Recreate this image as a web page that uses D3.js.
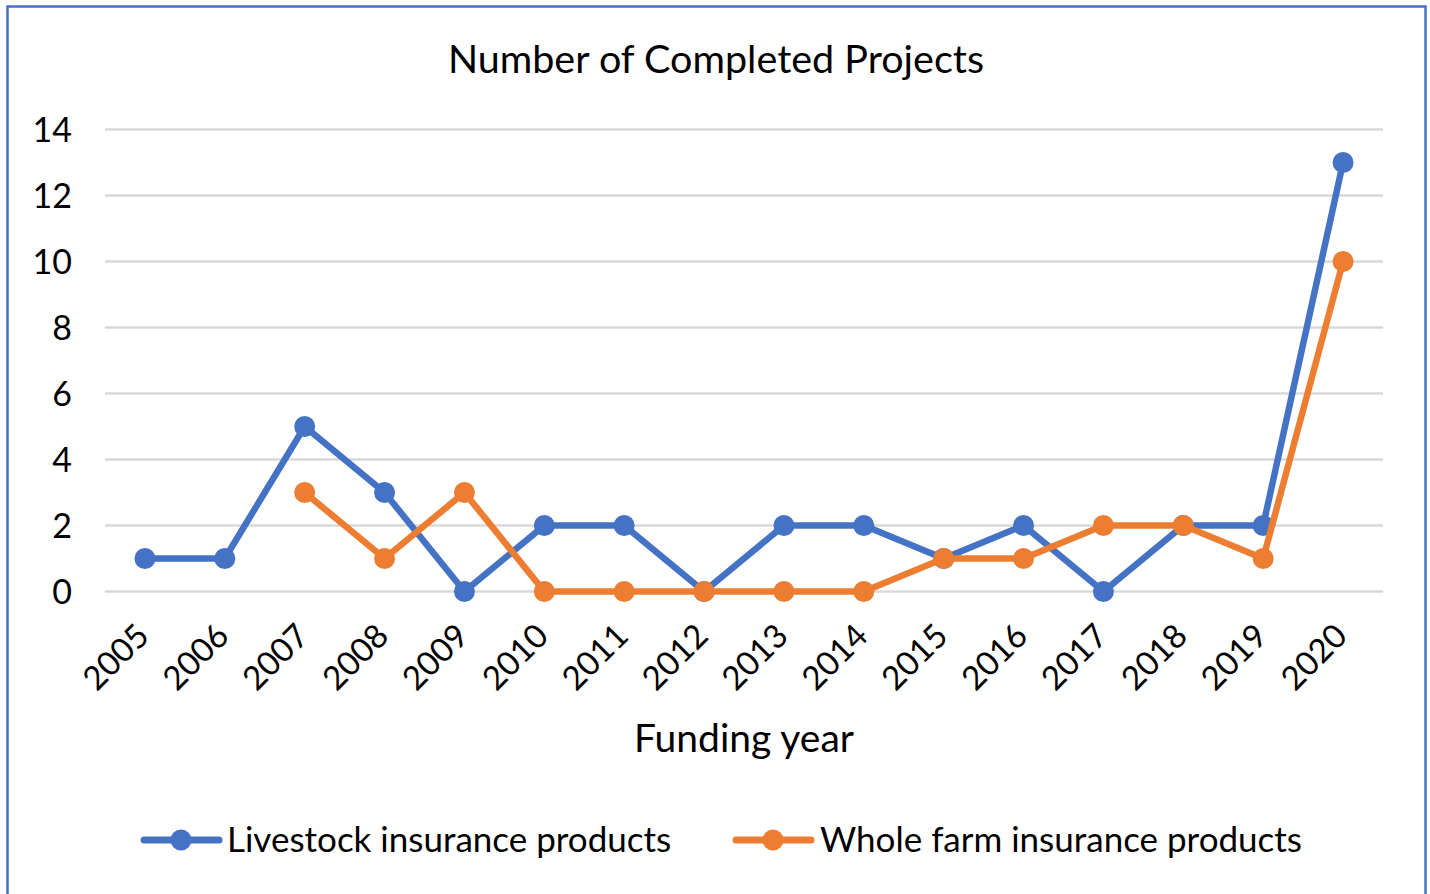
<!DOCTYPE html>
<html><head><meta charset="utf-8">
<script src="https://cdn.jsdelivr.net/npm/d3@7"></script>
<style>html,body{margin:0;padding:0;background:#fff;}svg{display:block;}</style>
</head><body>
<svg id="c" width="1430" height="894"></svg>
<script>
const years = ["2005","2006","2007","2008","2009","2010","2011","2012","2013","2014","2015","2016","2017","2018","2019","2020"];
const livestock = [1,1,5,3,0,2,2,0,2,2,1,2,0,2,2,13];
const wholeFarm = [null,null,3,1,3,0,0,0,0,0,1,1,2,2,1,10];
const yTicks = [0,2,4,6,8,10,12,14];
const seriesNames = ["Livestock insurance products","Whole farm insurance products"];
const colors = ["#4472C4","#ED7D31"];

const svg = d3.select("#c");
const font = "Lato, 'Open Sans', sans-serif";
// frame
svg.append("rect").attr("x",7.5).attr("y",6.5).attr("width",1418).attr("height",900)
  .attr("fill","none").attr("stroke","#4472C4").attr("stroke-width",2.5);

const x = d3.scaleBand().domain(years).range([105,1383]);
const y = d3.scaleLinear().domain([0,14]).range([591.5,129.5]);

svg.append("text").attr("x",716).attr("y",73).attr("text-anchor","middle")
  .attr("font-family",font).attr("font-size","39.5px").attr("fill","#000").text("Number of Completed Projects");

// gridlines
svg.append("g").selectAll("line").data(yTicks).join("line")
  .attr("x1",105).attr("x2",1383).attr("y1",d=>y(d)).attr("y2",d=>y(d))
  .attr("stroke","#d9d9d9").attr("stroke-width",2.5);

// y labels
svg.append("g").selectAll("text").data(yTicks).join("text")
  .attr("x",72).attr("y",d=>y(d)+12).attr("text-anchor","end")
  .attr("font-family",font).attr("font-size","34px").attr("fill","#000").text(d=>d);

// x labels
svg.append("g").selectAll("text").data(years).join("text")
  .attr("transform",d=>`translate(${x(d)+x.bandwidth()/2+6},${638}) rotate(-45)`)
  .attr("text-anchor","end").attr("font-family",font).attr("font-size","33px").attr("fill","#000").text(d=>d);

svg.append("text").attr("x",744).attr("y",752).attr("text-anchor","middle")
  .attr("font-family",font).attr("font-size","39px").attr("fill","#000").text("Funding year");

const cx = d=>x(d)+x.bandwidth()/2;
[livestock, wholeFarm].forEach((vals,i)=>{
  const pts = years.map((yr,j)=>({yr,v:vals[j]})).filter(p=>p.v!==null);
  const line = d3.line().x(p=>cx(p.yr)).y(p=>y(p.v));
  svg.append("path").attr("d",line(pts)).attr("fill","none").attr("stroke",colors[i])
    .attr("stroke-width",6.5).attr("stroke-linejoin","round").attr("stroke-linecap","round");
  svg.append("g").selectAll("circle").data(pts).join("circle")
    .attr("cx",p=>cx(p.yr)).attr("cy",p=>y(p.v)).attr("r",10.5).attr("fill",colors[i]);
});

// legend
const leg = [{x:144,tx:227},{x:736,tx:820}];
leg.forEach((l,i)=>{
  const g = svg.append("g");
  g.append("line").attr("x1",l.x).attr("x2",l.x+75).attr("y1",840).attr("y2",840)
    .attr("stroke",colors[i]).attr("stroke-width",7).attr("stroke-linecap","round");
  g.append("circle").attr("cx",l.x+37).attr("cy",840).attr("r",10.5).attr("fill",colors[i]);
  g.append("text").attr("x",l.tx).attr("y",852).attr("font-family",font).attr("font-size","35px")
    .attr("fill","#000").text(seriesNames[i]);
});
</script>
</body></html>
